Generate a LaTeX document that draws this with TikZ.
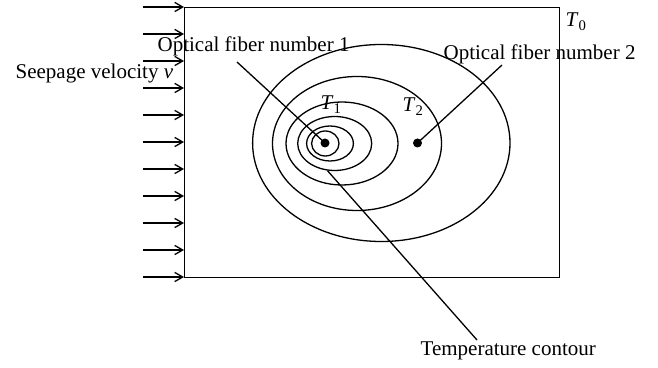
\documentclass[tikz,border=0pt]{standalone}
\usepackage{fontspec}
\setmainfont{Liberation Serif}
\usetikzlibrary{arrows.meta,shapes.geometric}

\begin{document}
\begin{tikzpicture}[
  x=0.5pt, y=-0.5pt, line width=0.65pt,
  >={Straight Barb[length=4pt,width=4.6pt]},
  contour/.style={ellipse, draw, inner sep=0pt},
  fiber/.style={circle, fill, inner sep=0pt, minimum size=4.5pt},
  lbl/.style={inner sep=0pt, anchor=base west, font=\fontsize{10.5}{12}\selectfont},
]
  \useasboundingbox (0,0) rectangle (658,368);

  % seepage field
  \node[draw, inner sep=0pt, anchor=north west,
    minimum width=187.5pt, minimum height=135pt] (box) at (184,7) {};

  % inflow arrows
  \foreach \i in {0,...,10} {
    \coordinate (in\i) at (143,7+27*\i);
    \draw[->] (in\i) -- (in\i -| box.west);
  }

  % temperature contours
  \node[contour, minimum width=13.7pt, minimum height=12.5pt] (c1) at (325.3,143.5) {};
  \node[contour, minimum width=23.4pt, minimum height=17.5pt] (c2) at (330,143.5) {};
  \node[contour, minimum width=37pt, minimum height=27pt] (c3) at (334.7,143.5) {};
  \node[contour, minimum width=56pt, minimum height=41.5pt] (c4) at (342,143.5) {};
  \node[contour, minimum width=84.5pt, minimum height=67pt] (c5) at (357,143.5) {};
  \node[contour, minimum width=128.7pt, minimum height=98.5pt] (c6) at (381.3,143) {};

  % fibers
  \node[fiber] (f1) at (325,143) {};
  \node[fiber] (f2) at (417.5,143) {};

  % labels
  \node[lbl] (seep) at (15,79) {Seepage velocity \textit{v}};
  \node[lbl] (lab1) at (157,52) {Optical fiber number 1};
  \node[lbl] (lab2) at (443,60) {Optical fiber number 2};
  \node[lbl] (t0) at (565,27) {\textit{T}\textsubscript{0}};
  \node[lbl] (t1) at (320,110) {\textit{T}\textsubscript{1}};
  \node[lbl] (t2) at (402,112) {\textit{T}\textsubscript{2}};
  \node[lbl] (temp) at (420,356) {Temperature contour};

  % leaders
  \coordinate (l1) at (237,62);
  \coordinate (l2) at (502,65);
  \coordinate (l3) at (477,340);
  \draw (f1.center) -- (l1);
  \draw (f2.center) -- (l2);
  \draw (c3.255) -- (l3);
\end{tikzpicture}
\end{document}
